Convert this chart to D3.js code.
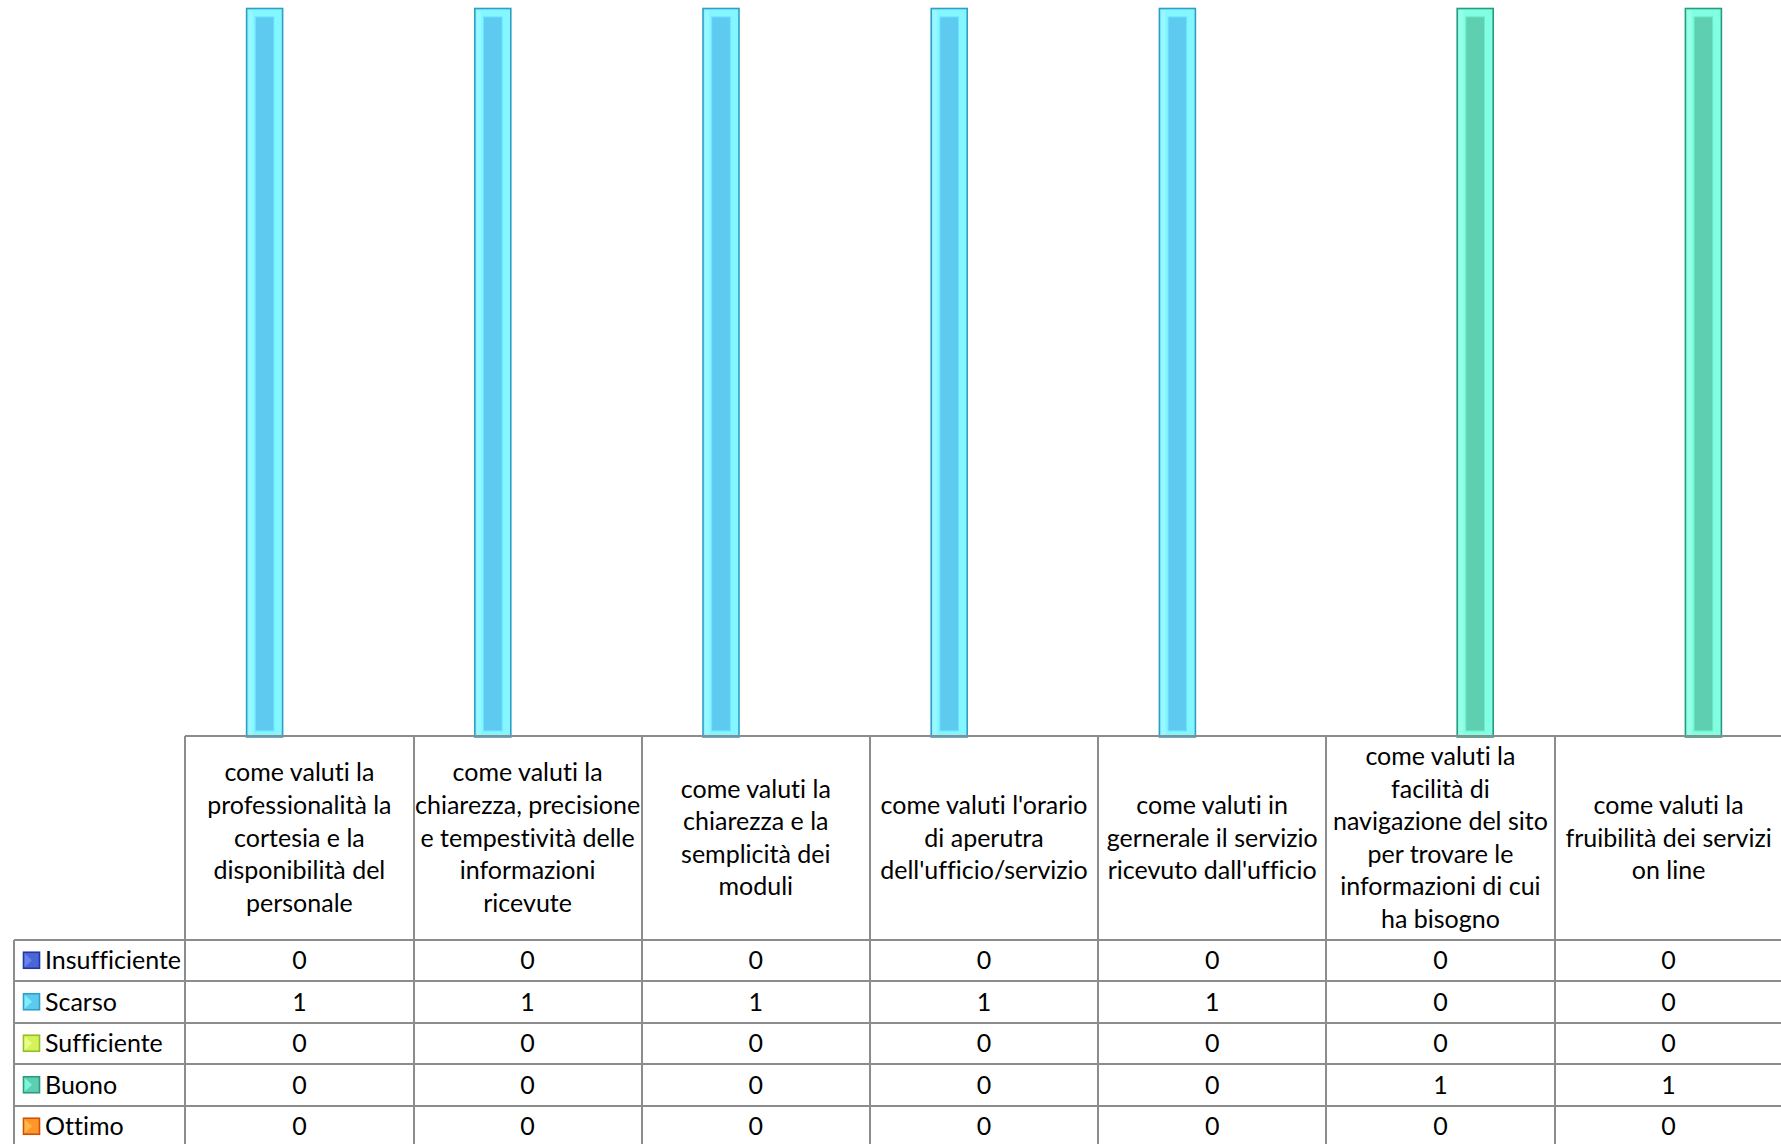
<!DOCTYPE html>
<html>
<head>
<meta charset="utf-8">
<script src="https://cdn.jsdelivr.net/npm/d3@7"></script>
<style>
  html, body { margin: 0; padding: 0; background: #fff; }
  svg { display: block; font-family: Lato, "Open Sans", sans-serif; font-variant-ligatures: none; }
  .grid { stroke: #8c8c8c; stroke-width: 2; fill: none; shape-rendering: crispEdges; }
  .cell-text { fill: #000; font-size: 25px; }
</style>
</head>
<body>
<div id="chart"></div>
<script>
const categories = [
  ["come valuti la", "professionalità la", "cortesia e la", "disponibilità del", "personale"],
  ["come valuti la", "chiarezza, precisione", "e tempestività delle", "informazioni", "ricevute"],
  ["come valuti la", "chiarezza e la", "semplicità dei", "moduli"],
  ["come valuti l'orario", "di aperutra", "dell'ufficio/servizio"],
  ["come valuti in", "gernerale il servizio", "ricevuto dall'ufficio"],
  ["come valuti la", "facilità di", "navigazione del sito", "per trovare le", "informazioni di cui", "ha bisogno"],
  ["come valuti la", "fruibilità dei servizi", "on line"]
];
const seriesNames = ["Insufficiente", "Scarso", "Sufficiente", "Buono", "Ottimo"];
const insufficiente = [0, 0, 0, 0, 0, 0, 0];
const scarso        = [1, 1, 1, 1, 1, 0, 0];
const sufficiente   = [0, 0, 0, 0, 0, 0, 0];
const buono         = [0, 0, 0, 0, 0, 1, 1];
const ottimo        = [0, 0, 0, 0, 0, 0, 0];
const seriesValues = [insufficiente, scarso, sufficiente, buono, ottimo];

// border, light bevel face, main face
const palette = {
  Insufficiente: { border: "#26389e", light: "#6f8cf0", face: "#4b66d8" },
  Scarso:        { border: "#2f9fc6", light: "#84f6ff", face: "#5ecaef" },
  Sufficiente:   { border: "#8fc02a", light: "#f0ff90", face: "#d6f25a" },
  Buono:         { border: "#2a9b7f", light: "#82ffe2", face: "#5ecfb0" },
  Ottimo:        { border: "#cc5208", light: "#ffc050", face: "#ff9628" }
};

const width = 1781, height = 1144;
const tableLeft = 14, colLeft = 185.3, colW = 228.2;
const axisY = 736, headerBottom = 939.5, rowH = 41.5;

const svg = d3.select("#chart").append("svg")
  .attr("width", width).attr("height", height);
svg.append("rect").attr("width", width).attr("height", height).attr("fill", "#fff");

const catKeys = categories.map((c, i) => i);
const x = d3.scaleBand().domain(catKeys).range([colLeft, colLeft + colW * categories.length]).padding(0);
// series slots inside each category, relative to the column centre
const x1 = d3.scaleBand().domain(seriesNames).range([-87, 87]).padding(0);
const y = d3.scaleLinear().domain([0, 1]).range([axisY, 8.5]);
const barW = x1.bandwidth() + 1.2;

const bars = [];
seriesNames.forEach((s, si) => {
  seriesValues[si].forEach((v, ci) => bars.push({ series: s, cat: ci, value: v }));
});

const barG = svg.append("g");
const shown = barG.selectAll("g.bar")
  .data(bars.filter(d => d.value > 0))
  .join("g")
  .attr("class", "bar")
  .attr("transform", d => `translate(${x(d.cat) + x.bandwidth() / 2 + x1(d.series) + x1.bandwidth() / 2 - barW / 2},${y(d.value)})`);

shown.append("rect")
  .attr("width", barW)
  .attr("height", d => y(0) - y(d.value) + 1)
  .attr("fill", d => palette[d.series].light)
  .attr("stroke", d => palette[d.series].border)
  .attr("stroke-width", 1.6);
// soft lighter strip on the left bevel
shown.append("rect")
  .attr("x", 2).attr("y", 2)
  .attr("width", 4)
  .attr("height", d => y(0) - y(d.value) - 3)
  .attr("fill", "#ffffff").attr("opacity", 0.18);
shown.append("rect")
  .attr("x", 8.7).attr("y", 8.4)
  .attr("width", barW - 17.4)
  .attr("height", d => y(0) - y(d.value) - 13.5)
  .attr("fill", d => palette[d.series].face)
  .attr("stroke", d => d3.color(palette[d.series].face).brighter(0.35))
  .attr("stroke-width", 1);

// data table
const tableRight = colLeft + colW * categories.length;
const grid = svg.append("g");
grid.append("line").attr("class", "grid")
  .attr("x1", colLeft).attr("x2", tableRight).attr("y1", axisY).attr("y2", axisY);
for (let r = 0; r <= seriesNames.length; r++) {
  const yy = headerBottom + r * rowH;
  grid.append("line").attr("class", "grid")
    .attr("x1", tableLeft).attr("x2", tableRight).attr("y1", yy).attr("y2", yy);
}
grid.append("line").attr("class", "grid")
  .attr("x1", tableLeft).attr("x2", tableLeft)
  .attr("y1", headerBottom).attr("y2", headerBottom + rowH * seriesNames.length);
catKeys.concat([categories.length]).forEach(i => {
  const xx = colLeft + i * colW;
  grid.append("line").attr("class", "grid")
    .attr("x1", xx).attr("x2", xx)
    .attr("y1", axisY).attr("y2", headerBottom + rowH * seriesNames.length);
});

// header labels
const lineH = 32.6;
const headerMid = (axisY + headerBottom) / 2;
const head = svg.append("g").selectAll("text")
  .data(categories.map((lines, i) => ({ lines, i })))
  .join("text")
  .attr("class", "cell-text")
  .attr("text-anchor", "middle")
  .attr("x", d => x(d.i) + colW / 2)
  .attr("y", d => headerMid - (d.lines.length - 1) * lineH / 2);
head.selectAll("tspan")
  .data(d => d.lines.map((t, k) => ({ t, k, cx: x(d.i) + colW / 2 })))
  .join("tspan")
  .attr("x", d => d.cx)
  .attr("dy", d => d.k === 0 ? "0.35em" : lineH)
  .text(d => d.t);

// rows: legend key + values
const rows = svg.append("g").selectAll("g")
  .data(seriesNames.map((s, r) => ({ s, r, vals: seriesValues[r] })))
  .join("g")
  .attr("transform", d => `translate(0,${headerBottom + d.r * rowH + rowH / 2})`);

rows.append("rect")
  .attr("x", 23.5).attr("y", -8)
  .attr("width", 16).attr("height", 16)
  .attr("fill", d => palette[d.s].face)
  .attr("stroke", d => palette[d.s].border)
  .attr("stroke-width", 1.6);
rows.append("path")
  .attr("d", "M24.5,-7L32,0L24.5,7Z")
  .attr("fill", d => palette[d.s].light)
  .attr("opacity", 0.8);
rows.append("text")
  .attr("class", "cell-text")
  .attr("x", 45).attr("dy", "0.35em")
  .text(d => d.s);
rows.selectAll("text.val")
  .data(d => d.vals.map((v, i) => ({ v, i })))
  .join("text")
  .attr("class", "cell-text val")
  .attr("text-anchor", "middle")
  .attr("x", d => x(d.i) + colW / 2)
  .attr("dy", "0.35em")
  .text(d => d.v);
</script>
</body>
</html>
